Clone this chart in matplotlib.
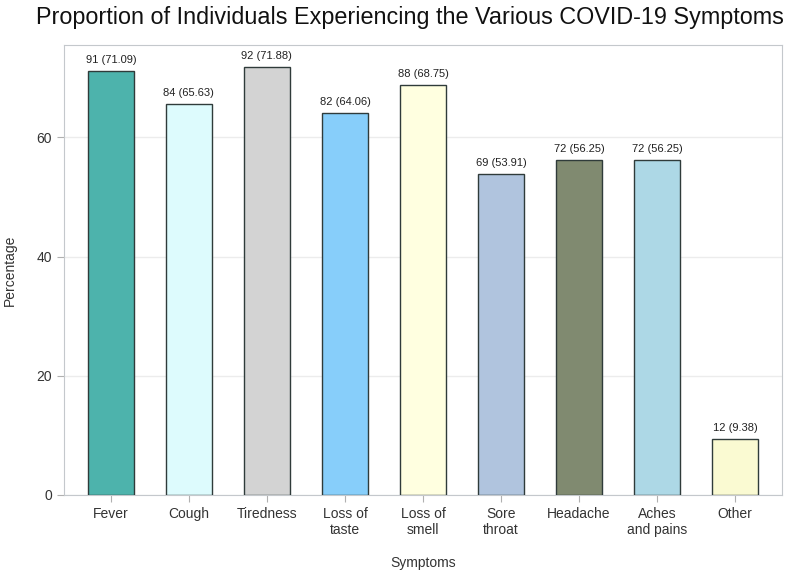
import numpy as np
import matplotlib.pyplot as plt

plt.rcParams['font.family'] = ['Liberation Sans', 'DejaVu Sans']

symptoms = ["Fever", "Cough", "Tiredness", "Loss of\ntaste", "Loss of\nsmell",
            "Sore\nthroat", "Headache", "Aches\nand pains", "Other"]
counts = [91, 84, 92, 82, 88, 69, 72, 72, 12]
percent = [71.09, 65.63, 71.88, 64.06, 68.75, 53.91, 56.25, 56.25, 9.38]
colors = ["#4DB3AC", "#DDFBFD", "#D3D3D3", "#87CEFA", "#FFFFE0",
          "#B0C4DE", "#808A70", "#ADD8E6", "#FAFAD2"]

fig = plt.figure(figsize=(7.96, 5.74), dpi=100)
ax = fig.add_axes([64/796, 1 - 495/574, (782-64)/796, (495-45)/574])

x = np.arange(len(symptoms))
bars = ax.bar(x, percent, width=0.59, color=colors, edgecolor="#2f3b3a", linewidth=1.0, zorder=3)
for xi, c, p in zip(x, counts, percent):
    ax.text(xi, p + 1.0, f"{c} ({p:.2f})", ha="center", va="bottom", fontsize=8, color="#222222")

ax.set_xlim(-0.6, 8.6)
ax.set_ylim(0, 75.5)
ax.set_yticks([0, 20, 40, 60])
ax.set_xticks(x)
ax.set_xticklabels(symptoms, fontsize=10, color="#333333")
ax.tick_params(axis="y", labelsize=10, labelcolor="#333333", color="#b0b0b0", length=5)
ax.tick_params(axis="x", color="#b0b0b0", length=5)
ax.yaxis.grid(True, color="#ececec", linewidth=1, zorder=0)
for s in ax.spines.values():
    s.set_color("#c4c8cc")
ax.set_xlabel("Symptoms", fontsize=10, color="#333333", labelpad=14)
ax.set_ylabel("Percentage", fontsize=10, color="#333333", labelpad=14)
fig.suptitle("Proportion of Individuals Experiencing the Various COVID-19 Symptoms",
             x=0.515, y=0.99, fontsize=16.8, color="#111111")

fig.savefig("out.png", dpi=100)
